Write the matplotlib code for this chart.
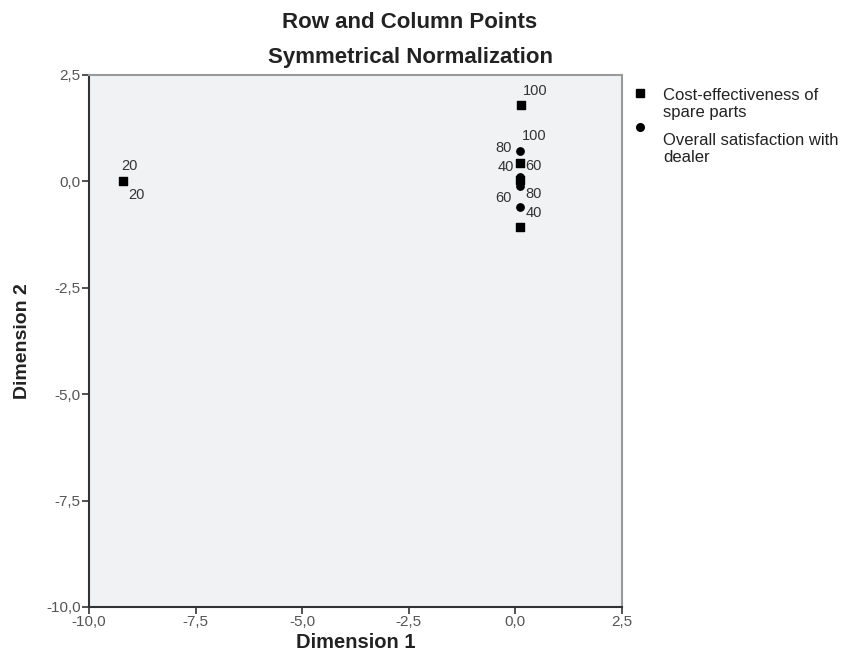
import numpy as np
import matplotlib
matplotlib.use("Agg")
import matplotlib.pyplot as plt
from matplotlib.lines import Line2D

plt.rcParams['font.family'] = ['Liberation Sans', 'DejaVu Sans']

# row points: cost-effectiveness of spare parts
cost_labels = ['20', '40', '60', '80', '100']
cost_x = [-9.2, 0.1, 0.1, 0.1, 0.12]
cost_y = [0.0, -1.07, 0.03, 0.43, 1.8]

# column points: overall satisfaction with dealer
sat_labels = ['20', '40', '60', '80', '100']
sat_x = [-9.2, 0.1, 0.1, 0.1, 0.1]
sat_y = [0.0, 0.1, -0.6, -0.1, 0.71]

# label offsets in pixels (so labels don't overlap, like the SPSS output)
cost_off = [(6, 15), (14, 14), (14, 14), (-16, 15), (15, 14)]
sat_off = [(13, -14), (-14, 10), (-16, 9), (14, -8), (15, 15)]

ticks = [-10.0, -7.5, -5.0, -2.5, 0.0, 2.5]
tick_text = [('%.1f' % t).replace('.', ',') for t in ticks]

fig = plt.figure(figsize=(8.48, 6.57), dpi=100)
ax = fig.add_axes([89/848, 1 - 607/657, 533/848, 532/657])
ax.set_facecolor('#f1f2f4')

ax.scatter(sat_x, sat_y, marker='o', s=28, color='black', zorder=3)
ax.scatter(cost_x, cost_y, marker='s', s=30, color='black', zorder=4)

for lab, x, y, off in zip(cost_labels, cost_x, cost_y, cost_off):
    ax.annotate(lab, (x, y), xytext=off, textcoords='offset pixels',
                ha='center', va='center', fontsize=10.5, color='#333333')
for lab, x, y, off in zip(sat_labels, sat_x, sat_y, sat_off):
    ax.annotate(lab, (x, y), xytext=off, textcoords='offset pixels',
                ha='center', va='center', fontsize=10.5, color='#333333')

ax.set_xlim(-10, 2.5)
ax.set_ylim(-10, 2.5)
ax.set_xticks(ticks)
ax.set_xticklabels(tick_text)
ax.set_yticks(ticks)
ax.set_yticklabels(tick_text)
ax.tick_params(direction='out', length=5, width=1.2, color='#333333',
               labelsize=11, labelcolor='#555555', pad=1)
for side in ['left', 'bottom']:
    ax.spines[side].set_color('#333333')
    ax.spines[side].set_linewidth(1.5)
for side in ['top', 'right']:
    ax.spines[side].set_color('#999999')
    ax.spines[side].set_linewidth(1.5)

ax.set_xlabel('Dimension 1', fontsize=14.5, fontweight='bold', labelpad=3,
              color='#222222')
ax.set_ylabel('Dimension 2', fontsize=14, fontweight='bold', labelpad=11,
              color='#222222')

fig.text(410/848, 1 - 22/657, 'Row and Column Points', ha='center', va='center',
         fontsize=16, fontweight='bold', color='#222222')
fig.text(410/848, 1 - 58/657, 'Symmetrical Normalization', ha='center', va='center',
         fontsize=16, fontweight='bold', color='#222222')

# legend, marker placed near the top line of each entry (as in SPSS)
legend_items = [('s', 'Cost-effectiveness of\nspare parts', 88, 93),
                ('o', 'Overall satisfaction with\ndealer', 133, 127)]
for mk, text, top, my in legend_items:
    fig.add_artist(Line2D([640/848], [1 - my/657], marker=mk,
                          color='black', linestyle='', markersize=5.5,
                          transform=fig.transFigure))
    fig.text(663/848, 1 - top/657, text, ha='left', va='top', fontsize=12,
             color='#222222', linespacing=1.15)

fig.savefig('out.png', dpi=100)
